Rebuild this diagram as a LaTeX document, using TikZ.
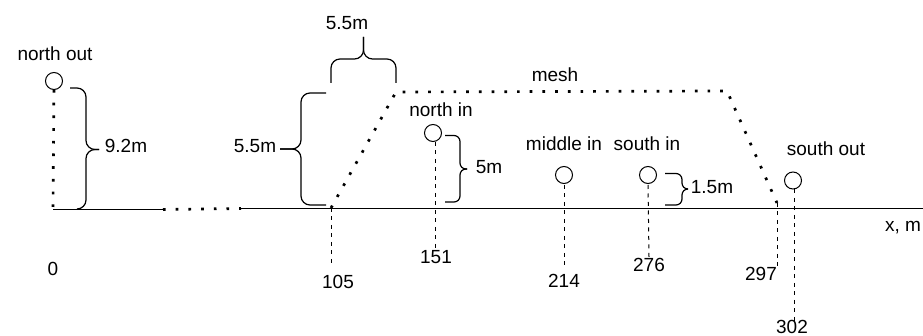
\documentclass[tikz,border=0pt]{standalone}
\usepackage{fontspec}
\setmainfont{Liberation Sans}
\begin{document}
\begin{tikzpicture} [-,x=1pt,y=-1pt,line width=1.2pt]
\tikzstyle{every node}=[font=\fontsize{19}{21}\selectfont,inner sep=0pt]
\tikzstyle{well}=[draw,circle,minimum size=17pt,line width=1pt]
\tikzstyle{dots}=[line width=2.7pt,dash pattern=on 2.7pt off 10pt]
\tikzstyle{drop}=[line width=1pt,dash pattern=on 4pt off 4.5pt]
\tikzstyle{curly}=[rounded corners=9pt]
\useasboundingbox (0,0) rectangle (923,336);
% wells
\node[well] (northout) at (54,81) {};
\node[well] (northin) at (433,133) {};
\node[well] (middlein) at (564,175) {};
\node[well] (southin) at (648,175) {};
\node[well] (southout) at (793,180.5) {};
\node (lnorthout) at (55,54) {north out};
\node (lnorthin) at (441,110) {north in};
\node (lmiddlein) at (564,144) {middle in};
\node (lsouthin) at (647,144) {south in};
\node (lsouthout) at (826,149) {south out};
\node (lmesh) at (555,75) {mesh};
\node (lx) at (903,228) {x, m};
% axis
\coordinate (origin) at (53,209.5);
\coordinate (breakA) at (163,209.5);
\coordinate (breakB) at (241,208.5);
\coordinate (axisend) at (923,208.5);
\draw (origin) -- (breakA);
\draw[dots] (breakA) -- (breakB);
\draw (breakB) -- (axisend);
% mesh
\coordinate (meshA) at (331,208);
\coordinate (meshB) at (396,92);
\coordinate (meshC) at (727,91);
\coordinate (meshD) at (777,203);
\draw[dots] (meshA) -- (meshB) -- (meshC) -- (meshD);
\draw[dots] (northout) -- (origin);
% positions along x
\node (l0) at (53,269) {0};
\node (l105) at (338,282) {105};
\node (l151) at (436,257) {151};
\node (l214) at (564,281) {214};
\node (l276) at (649,265) {276};
\node (l297) at (761,274) {297};
\node (l302) at (792,327) {302};
\coordinate (d105) at (331,267);
\coordinate (d151) at (435,250);
\coordinate (d214) at (564,268);
\coordinate (d276) at (649,257);
\coordinate (d297) at (777,267);
\coordinate (d302) at (794,321);
\draw[drop] (meshA) -- (d105);
\draw[drop] (northin.south -| d151) -- (d151);
\draw[drop] (middlein) ++(0,10) -- (d214);
\draw[drop] (southin) ++(0,10) -- (d276);
\draw[drop] (meshD) -- (d297);
\draw[drop] (southout.south -| d302) -- (d302);
% braces
\node (h1) at (347,23) {5.5m};
\draw[curly] (331,83) -- (331,59) -- (363.5,59) -- (363.5,37);
\draw[curly] (396,83) -- (396,59) -- (363.5,59) -- (363.5,37);
\node (h2) at (255,146) {5.5m};
\draw[curly] (326,93) -- (301,93) -- (301,149) -- (280,149);
\draw[curly] (326,205) -- (301,205) -- (301,149) -- (280,149);
\node (h3) at (126,146) {9.2m};
\draw[curly] (70,88) -- (86,88) -- (86,149.5) -- (99,149.5);
\draw[curly] (80,209) -- (86,209) -- (86,149.5) -- (99,149.5);
\node (h4) at (489,167) {5m};
\draw[curly,rounded corners=6pt] (445,135.5) -- (460,135.5) -- (460,169) -- (467,169);
\draw[curly,rounded corners=6pt] (445,202) -- (460,202) -- (460,169) -- (467,169);
\node (h5) at (712,187) {1.5m};
\draw[curly,rounded corners=6pt] (665,173.5) -- (682,173.5) -- (682,189) -- (688,189);
\draw[curly,rounded corners=6pt] (665,205) -- (682,205) -- (682,189) -- (688,189);
\end{tikzpicture}
\end{document}
